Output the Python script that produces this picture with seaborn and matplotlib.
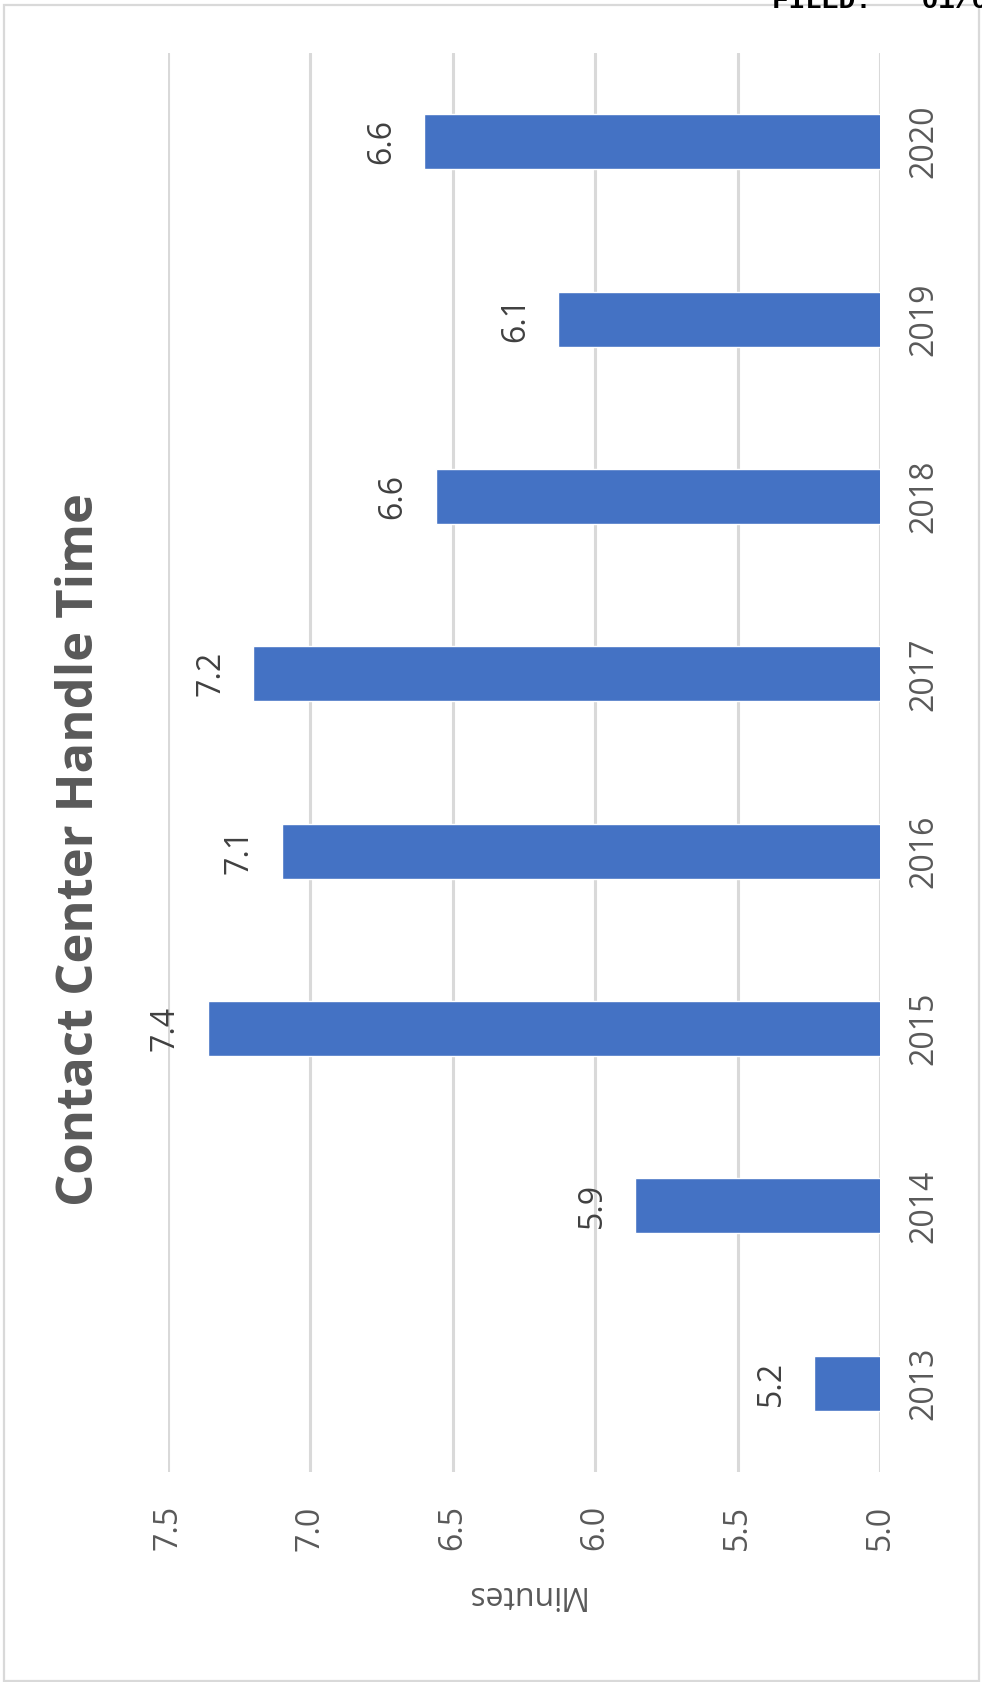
import matplotlib
matplotlib.use("Agg")
import matplotlib.pyplot as plt
import seaborn as sns
import pandas as pd
from matplotlib.patches import Rectangle

# ---- data ----
years = ["2013", "2014", "2015", "2016", "2017", "2018", "2019", "2020"]
minutes = [5.23, 5.86, 7.36, 7.10, 7.20, 6.56, 6.13, 6.60]
x_ticks = [5.0, 5.5, 6.0, 6.5, 7.0, 7.5]
title = "Contact Center Handle Time"
axis_label = "Minutes"
stamp = "FILED:   01/04/2021"

df = pd.DataFrame({"year": years, "minutes": minutes})

sns.set_theme(style="white")
plt.rcParams["font.family"] = ["Open Sans", "DejaVu Sans"]

W, H = 982, 1682
fig = plt.figure(figsize=(W / 100, H / 100), dpi=100)
ax = fig.add_axes([168 / W, 1 - 1472 / H, (880 - 168) / W, (1472 - 53) / H])

order = years[::-1]  # 2020 at top
sns.barplot(data=df, x="minutes", y="year", order=order, orient="h",
            color="#4472C4", saturation=1, width=0.31, ax=ax)

ax.set_xlim(7.5, 5.0)
ax.set_xticks(x_ticks)
ax.set_xticklabels([f"{v:.1f}" for v in x_ticks], rotation=90,
                   fontsize=23, color="#595959")
ax.tick_params(axis="x", length=0, pad=24)

ax.yaxis.tick_right()
ax.set_yticks(range(len(order)))
ax.set_yticklabels(order, rotation=90, va="center", fontsize=23, color="#595959")
ax.tick_params(axis="y", length=0, pad=20)
ax.set_ylabel("")

ax.set_xlabel(axis_label, rotation=180, fontsize=23, color="#595959", labelpad=20)

ax.grid(axis="x", color="#d9d9d9", linewidth=2.2)
ax.grid(axis="y", visible=False)
ax.set_axisbelow(True)
for s in ax.spines.values():
    s.set_visible(False)

for c in ax.containers:
    ax.bar_label(c, labels=[f"{v:.1f}" for v in minutes[::-1]], rotation=90,
                 padding=19, fontsize=23, color="#404040")

fig.text(80 / W, 1 - 850 / H, title, rotation=90, ha="center", va="center",
         fontsize=36.5, fontweight="bold", color="#595959")

fig.text(772 / W, 1 - 8 / H, stamp, ha="left", va="baseline",
         fontsize=20, fontweight="bold", color="black",
         family=["Liberation Mono", "DejaVu Sans Mono"])

fig.patches.append(Rectangle((4 / W, 1 - 1681 / H), (979 - 4) / W, (1681 - 5) / H,
                             transform=fig.transFigure, fill=False,
                             edgecolor="#d9d9d9", linewidth=1.6))

fig.savefig("out.png", dpi=100)
